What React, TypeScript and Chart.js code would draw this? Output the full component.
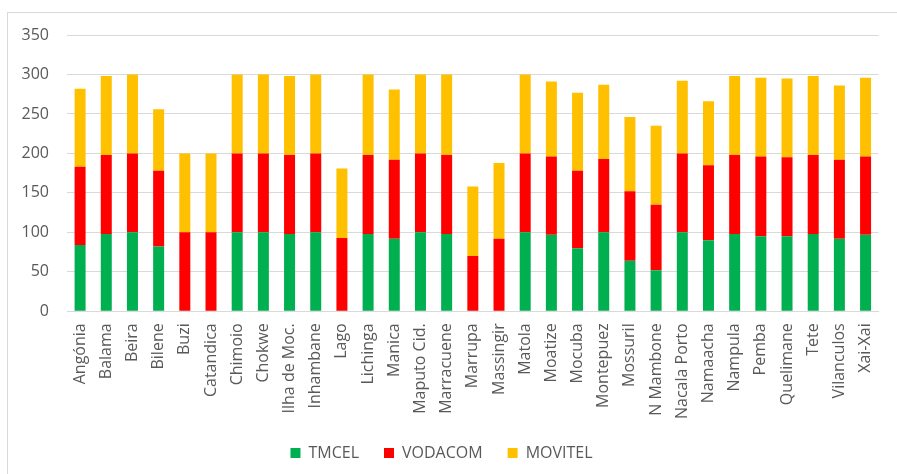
import React, { useEffect, useRef } from "react";
import { Chart, registerables } from "chart.js";

Chart.register(...registerables);

const categories = [
  "Angónia", "Balama", "Beira", "Bilene", "Buzi", "Catandica", "Chimoio", "Chokwe",
  "Ilha de Moc.", "Inhambane", "Lago", "Lichinga", "Manica", "Maputo Cid.", "Marracuene",
  "Marrupa", "Massingir", "Matola", "Moatize", "Mocuba", "Montepuez", "Mossuril",
  "N Mambone", "Nacala Porto", "Namaacha", "Nampula", "Pemba", "Quelimane", "Tete",
  "Vilanculos", "Xai-Xai",
];

const tmcel = [84, 98, 100, 82, 0, 0, 100, 100, 98, 100, 0, 98, 92, 100, 98, 0, 0, 100, 97, 80, 100, 64, 52, 100, 90, 98, 95, 95, 98, 92, 97];
const vodacom = [99, 100, 100, 96, 100, 100, 100, 100, 100, 100, 93, 100, 100, 100, 100, 70, 92, 100, 99, 98, 93, 88, 83, 100, 95, 100, 101, 100, 100, 100, 99];
const movitel = [99, 100, 100, 78, 100, 100, 100, 100, 100, 100, 88, 102, 89, 100, 102, 88, 96, 100, 95, 99, 94, 94, 100, 92, 81, 100, 100, 100, 100, 94, 100];

const seriesNames = ["TMCEL", "VODACOM", "MOVITEL"];
const seriesColors = ["#00B050", "#FF0000", "#FFC000"];
const yTicks = [0, 50, 100, 150, 200, 250, 300, 350];

export default function App() {
  const ref = useRef<HTMLCanvasElement | null>(null);

  useEffect(() => {
    if (!ref.current) return;
    const font = { family: "'Open Sans', sans-serif", size: 16 };
    const values = [tmcel, vodacom, movitel];
    const chart = new Chart(ref.current, {
      type: "bar",
      data: {
        labels: categories,
        datasets: seriesNames.map((name, i) => ({
          label: name,
          data: values[i],
          backgroundColor: seriesColors[i],
          borderWidth: 0,
          barPercentage: 0.42,
          categoryPercentage: 1,
        })),
      },
      options: {
        responsive: false,
        animation: false,
        layout: { padding: { top: 35, right: 14, left: 0, bottom: 3 } },
        plugins: {
          tooltip: { enabled: false },
          legend: {
            position: "bottom",
            labels: {
              font,
              color: "#595959",
              boxWidth: 10,
              boxHeight: 10,
              padding: 25,
            },
          },
        },
        scales: {
          x: {
            stacked: true,
            grid: { display: false, drawTicks: false },
            border: { display: true, color: "#d9d9d9", width: 1 },
            afterFit: (scale: any) => {
              scale.height = scale.height - 11;
            },
            ticks: {
              font,
              color: "#595959",
              autoSkip: false,
              minRotation: 90,
              maxRotation: 90,
              padding: 12,
            },
          },
          y: {
            stacked: true,
            min: 0,
            max: 350,
            afterFit: (scale: any) => {
              scale.width = 67;
            },
            afterBuildTicks: (scale: any) => {
              scale.ticks = yTicks.map((v) => ({ value: v }));
            },
            grid: { color: "#d9d9d9", drawTicks: false },
            border: { display: false },
            ticks: {
              font,
              color: "#595959",
              padding: 18,
            },
          },
        },
      },
    });
    return () => chart.destroy();
  }, []);

  return (
    <div
      style={{
        position: "absolute",
        left: 0,
        top: 0,
        width: 897,
        height: 474,
        background: "#ffffff",
        overflow: "hidden",
      }}
    >
      <div
        style={{
          position: "absolute",
          left: 7,
          top: 12,
          width: 2000,
          height: 2000,
          border: "1px solid #d9d9d9",
        }}
      />
      <canvas ref={ref} width={897} height={474} style={{ position: "absolute", left: 0, top: 0 }} />
    </div>
  );
}
